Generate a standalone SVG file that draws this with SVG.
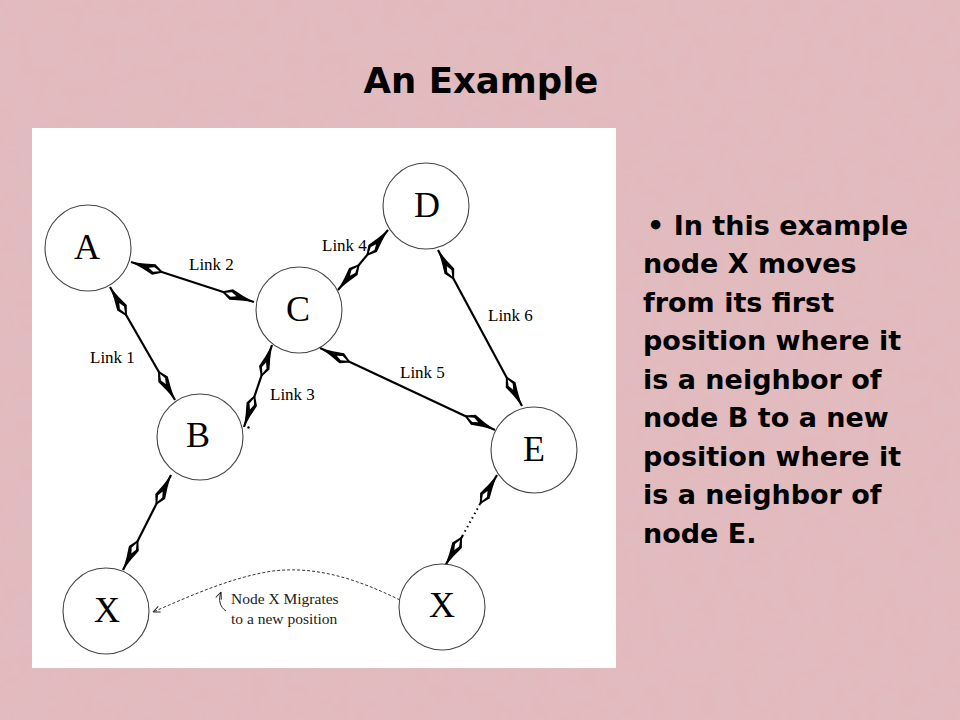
<svg xmlns="http://www.w3.org/2000/svg" width="960" height="720" viewBox="0 0 960 720">
<defs>
<filter id="tex" x="0" y="0" width="100%" height="100%">
<feTurbulence type="fractalNoise" baseFrequency="0.06" numOctaves="3" seed="7" result="n"/>
<feColorMatrix in="n" type="matrix" values="0 0 0 0 0.72  0 0 0 0 0.52  0 0 0 0 0.55  0 0 0 0.6 -0.15"/>
</filter>
<marker id="tip" viewBox="-38 -8 40 16" refX="0" refY="0" markerWidth="40" markerHeight="16" markerUnits="userSpaceOnUse" orient="auto-start-reverse">
<path d="M0,0 L-13,-2.6 L-24,-5.5 L-34,0 L-24,5.5 L-13,2.6 Z" fill="#000"/>
<path d="M-18.5,0 L-24,-2.4 L-30,0 L-24,2.4 Z" fill="#fff"/>
</marker>
<marker id="small" viewBox="-8 -4 9 8" refX="0" refY="0" markerWidth="9" markerHeight="8" markerUnits="userSpaceOnUse" orient="auto">
<path d="M0,0 L-7,-3 M0,0 L-7,3" stroke="#222" stroke-width="1" fill="none"/>
</marker>
</defs>
<style>
.node circle{fill:#fff;stroke:#444;stroke-width:1.1}
.node text{font-family:"Liberation Serif","Times New Roman",serif;font-size:36px;text-anchor:middle;fill:#000}
.link{stroke:#000;stroke-width:2.2;fill:none}
.lbl{font-family:"Liberation Serif","Times New Roman",serif;font-size:17px;fill:#000}
.cap{font-family:"Liberation Serif","Times New Roman",serif;font-size:15.5px;fill:#222}
.body{font-family:"DejaVu Sans","Noto Sans",sans-serif;font-weight:bold;font-size:27px;fill:#000}
</style>
<rect x="0" y="0" width="960" height="720" fill="#e2babd"/>
<rect x="0" y="0" width="960" height="720" filter="url(#tex)"/>
<text x="481" y="93" text-anchor="middle" font-family="DejaVu Sans,'Noto Sans',sans-serif" font-weight="bold" font-size="35.5" fill="#000">An Example</text>
<rect x="32" y="128" width="584" height="540" fill="#fff"/>
<g id="connectors">
<path class="link" d="M131,262 L254,302" marker-start="url(#tip)" marker-end="url(#tip)"/>
<path class="link" d="M110,287 L175,400" marker-start="url(#tip)" marker-end="url(#tip)"/>
<path class="link" d="M272,345 L244,427" marker-start="url(#tip)" marker-end="url(#tip)"/>
<path class="link" d="M338,290 L388,230" marker-start="url(#tip)" marker-end="url(#tip)"/>
<path class="link" d="M438,250 L522,406" marker-start="url(#tip)" marker-end="url(#tip)"/>
<path class="link" d="M320,348 L495,430" marker-start="url(#tip)" marker-end="url(#tip)"/>
<path class="link" d="M171,475 L123,570" marker-start="url(#tip)" marker-end="url(#tip)"/>
<path class="link" d="M480,504 L497,475" marker-end="url(#tip)"/>
<path class="link" d="M463,535 L445,566" marker-end="url(#tip)"/>
<path d="M480,504 L463,535" stroke="#000" stroke-width="2" stroke-dasharray="1.5 3.5" fill="none"/>
<circle cx="248.5" cy="427.5" r="1.2" fill="#000"/>
<path d="M400,600 C355,578 315,566 273,571 C232,577 190,596 153,612" stroke="#333" stroke-width="1" stroke-dasharray="3 2" fill="none" marker-end="url(#small)"/>
<path d="M226,611 C220,607 218,600 221,592" stroke="#222" stroke-width="1" fill="none" marker-end="url(#small)"/>
</g>
<g id="labels">
<text class="lbl" x="189" y="270">Link 2</text>
<text class="lbl" x="90" y="363">Link 1</text>
<text class="lbl" x="270" y="400">Link 3</text>
<text class="lbl" x="322" y="251">Link 4</text>
<text class="lbl" x="488" y="321">Link 6</text>
<text class="lbl" x="400" y="378">Link 5</text>
<text class="cap" x="231" y="604">Node X Migrates</text>
<text class="cap" x="231" y="624">to a new position</text>
</g>
<g id="node-A" class="node"><circle cx="88" cy="248" r="43"/><text x="87" y="259">A</text></g>
<g id="node-C" class="node"><circle cx="299" cy="310" r="43"/><text x="298" y="321">C</text></g>
<g id="node-D" class="node"><circle cx="426" cy="206" r="43"/><text x="427" y="217">D</text></g>
<g id="node-B" class="node"><circle cx="200" cy="437" r="43"/><text x="198" y="447">B</text></g>
<g id="node-E" class="node"><circle cx="534" cy="450" r="43"/><text x="534" y="461">E</text></g>
<g id="node-X1" class="node"><circle cx="106" cy="611" r="43"/><text x="107" y="622">X</text></g>
<g id="node-X2" class="node"><circle cx="442" cy="607" r="43"/><text x="442" y="617">X</text></g>
<g id="text-body" class="body">
<text x="647" y="235">• In this example</text>
<text x="643" y="273">node X moves</text>
<text x="643" y="312">from its first</text>
<text x="643" y="350">position where it</text>
<text x="643" y="389">is a neighbor of</text>
<text x="643" y="427">node B to a new</text>
<text x="643" y="466">position where it</text>
<text x="643" y="504">is a neighbor of</text>
<text x="643" y="543">node E.</text>
</g>
</svg>
